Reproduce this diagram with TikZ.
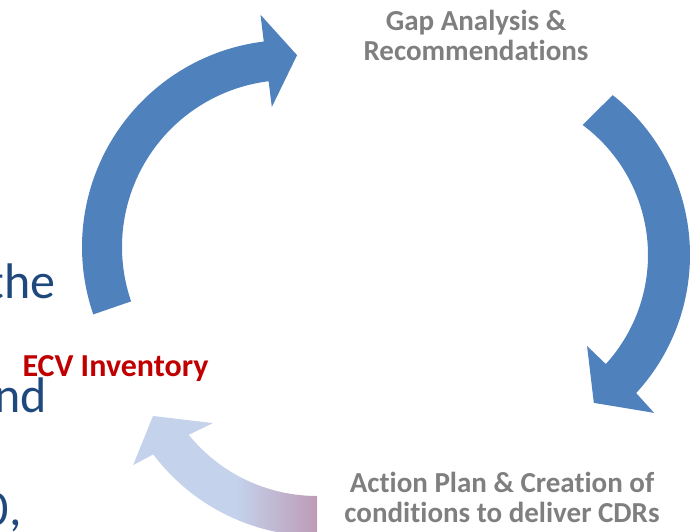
\documentclass[tikz,border=0pt]{standalone}
\usepackage{fontspec}
\setmainfont[Ligatures={NoCommon}]{Carlito}
\usepackage{tikz}
\usetikzlibrary{shapes,arrows,positioning}

\definecolor{arrowblue}{RGB}{79,129,189}
\definecolor{paleblue}{RGB}{196,210,236}
\definecolor{mauve}{RGB}{190,155,182}
\definecolor{labelgray}{RGB}{127,127,127}
\definecolor{ecvred}{RGB}{192,0,0}
\definecolor{slideblue}{RGB}{31,73,125}

\pgfdeclarehorizontalshading{fadearrow}{100bp}{color(0bp)=(paleblue); color(53bp)=(paleblue); color(75bp)=(mauve); color(100bp)=(mauve)}

\begin{document}
\begin{tikzpicture}[x=1pt,y=1pt]
\useasboundingbox (0,0) rectangle (690,-532);
\clip (0,0) rectangle (690,-532);

\tikzstyle{cyclearrow}=[fill=arrowblue,draw=none]
\tikzstyle{steplabel}=[text=labelgray,font=\bfseries\fontsize{29}{30}\selectfont,align=center,inner sep=0pt]
\tikzstyle{slidetext}=[text=slideblue,font=\fontsize{50}{60}\selectfont,anchor=base east,inner sep=0pt]

% inventory -> gap analysis
\fill[cyclearrow,shift={(289,-247)}] (199:167pt) arc[start angle=199,end angle=97,radius=167pt]
  -- (97:141pt) -- (87.6:192pt) -- (97:234pt) -- (97:207pt)
  arc[start angle=97,end angle=199,radius=207pt] -- cycle;

% gap analysis -> action plan
\fill[cyclearrow,shift={(486,-255)}] (53.4:162pt) arc[start angle=53.4,end angle=-42.3,radius=162pt]
  -- (-42:136pt) -- (-53.9:183pt) -- (-43.2:230.6pt) -- (-42.6:204pt)
  arc[start angle=-42.6,end angle=51.6,radius=204pt] -- cycle;

% action plan -> inventory
\shade[shading=fadearrow,shift={(317,-331)}] (270:165pt) arc[start angle=270,end angle=219,radius=165pt]
  -- (221.5:139pt) -- (207.4:184.7pt) -- (216.1:227.6pt) -- (217:205pt)
  arc[start angle=217,end angle=270,radius=205pt] -- cycle;

\node (gap) at (476,-61) [steplabel,anchor=base] {Gap Analysis \&\\Recommendations};
\node (ecv) at (115.5,-376) [steplabel,anchor=base,text=ecvred,font=\bfseries\fontsize{32}{34}\selectfont] {ECV Inventory};
\node (action) at (502,-522) [steplabel,anchor=base] {Action Plan \& Creation of\\conditions to deliver CDRs};

\node (the) at (56,-298) [slidetext] {the};
\node (nd) at (47,-412) [slidetext] {nd};
\node (zero) at (22,-525) [slidetext] {0,};

\end{tikzpicture}
\end{document}
